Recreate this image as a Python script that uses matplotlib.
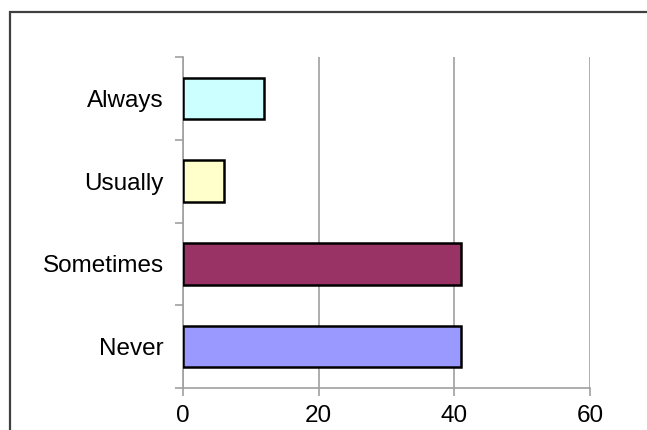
import matplotlib.pyplot as plt
from matplotlib.patches import Rectangle

categories = ['Never', 'Sometimes', 'Usually', 'Always']
values = [41, 41, 6, 12]
colors = ['#9999FF', '#993366', '#FFFFCC', '#CCFFFF']
xticks = [0, 20, 40, 60]

plt.rcParams['font.family'] = ['Liberation Sans', 'DejaVu Sans']

fig = plt.figure(figsize=(6.47, 4.30), dpi=100)
ax = fig.add_axes([183/647, 1-388/430, (590-183)/647, (388-57)/430])

pos = range(len(categories))
ax.barh(pos, values, height=0.5, color=colors, edgecolor='black', linewidth=1.8, zorder=3)

ax.set_xlim(0, 60)
ax.set_ylim(-0.5, len(categories)-0.5)
ax.set_xticks(xticks)
ax.set_xticklabels([str(t) for t in xticks], fontsize=17.5)
ax.set_yticks(list(pos))
ax.set_yticklabels(categories, fontsize=17.5)
ax.set_yticks([i-0.5 for i in range(len(categories)+1)], minor=True)
ax.tick_params(axis='y', which='major', length=0, pad=14)
ax.tick_params(axis='y', which='minor', length=6, color='#a0a0a0', width=1.2)
ax.tick_params(axis='x', length=6, color='#a0a0a0', width=1.2, pad=6)

ax.grid(axis='x', color='#a0a0a0', linewidth=1.2, zorder=0)
for s in ['top', 'right']:
    ax.spines[s].set_visible(False)
for s in ['left', 'bottom']:
    ax.spines[s].set_color('#a0a0a0')
    ax.spines[s].set_linewidth(1.2)

# outer frame (cut off at right and bottom)
fig.patches.append(Rectangle((10/647, -0.1), 1.2, 1-12/430+0.1, transform=fig.transFigure,
                             fill=False, edgecolor='#404040', linewidth=1.6))

fig.savefig('out.png', dpi=100)
